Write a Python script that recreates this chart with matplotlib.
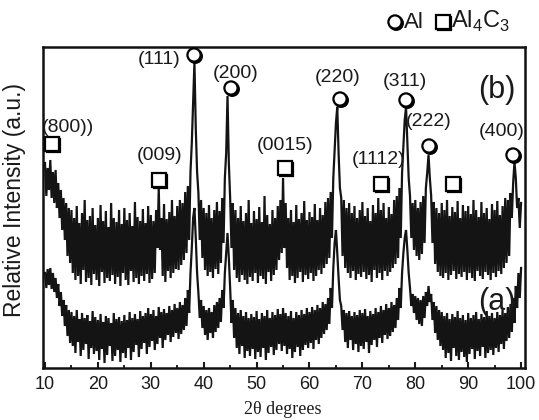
import numpy as np
import matplotlib
matplotlib.use("Agg")
import matplotlib.pyplot as plt
import matplotlib.patheffects as pe

# ---------------- data ----------------
two_theta_start, two_theta_step = 10.0, 0.25

# pattern (b): relative intensity (arbitrary units, stacked offset included)
pattern_b = [
    205, 172, 200, 178, 208, 170, 196, 165, 198, 160, 185, 150, 178, 138, 170, 128, 165, 112, 160, 105,
    158, 95, 150, 88, 162, 92, 145, 84, 155, 98, 168, 86, 148, 90, 152, 83, 160, 94, 143, 88,
    150, 82, 163, 96, 147, 85, 157, 90, 141, 87, 165, 93, 150, 84, 146, 91, 158, 82, 144, 95,
    160, 88, 148, 83, 155, 97, 142, 86, 166, 90, 151, 84, 147, 92, 159, 87, 145, 94, 162, 85,
    153, 89, 147, 95, 158, 120, 180, 118, 150, 92, 164, 86, 149, 97, 156, 90, 168, 95, 152, 99,
    162, 98, 168, 103, 165, 108, 176, 115, 182, 128, 196, 225, 265, 306, 240, 196, 175, 128, 168, 110,
    160, 98, 155, 92, 163, 96, 150, 90, 158, 99, 166, 94, 157, 105, 170, 125, 190, 215, 272, 205,
    170, 120, 165, 98, 158, 90, 150, 86, 162, 93, 147, 88, 155, 84, 168, 91, 145, 87, 157, 95,
    149, 85, 161, 92, 146, 89, 172, 84, 153, 96, 144, 87, 158, 93, 150, 98, 162, 108, 168, 115,
    190, 120, 165, 100, 150, 88, 158, 92, 146, 85, 163, 90, 149, 96, 155, 86, 167, 93, 148, 89,
    156, 95, 151, 87, 164, 92, 148, 98, 160, 94, 153, 100, 166, 104, 170, 110, 176, 130, 190, 218,
    245, 261, 215, 180, 170, 112, 168, 100, 160, 95, 165, 90, 155, 97, 162, 88, 150, 94, 158, 91,
    166, 96, 152, 89, 160, 93, 147, 86, 163, 98, 155, 90, 170, 95, 158, 88, 165, 97, 150, 92,
    161, 96, 154, 100, 168, 104, 172, 110, 180, 130, 195, 222, 248, 261, 225, 190, 172, 130, 165, 118,
    168, 112, 160, 108, 166, 114, 172, 125, 180, 195, 213, 190, 172, 125, 166, 104, 160, 96, 155, 92,
    165, 90, 158, 95, 168, 88, 152, 93, 161, 97, 156, 89, 167, 94, 150, 91, 163, 96, 157, 88,
    162, 95, 154, 90, 168, 87, 158, 97, 151, 92, 166, 89, 155, 96, 160, 93, 149, 88, 164, 95,
    158, 91, 167, 97, 153, 94, 162, 100, 170, 105, 168, 112, 175, 150, 185, 206, 190, 160, 170, 140,
    165,
]

# pattern (a)
pattern_a = [
    95, 80, 99, 83, 100, 79, 95, 76, 90, 70, 84, 62, 76, 52, 68, 42, 63, 32, 58, 25,
    56, 22, 52, 15, 58, 26, 49, 12, 55, 18, 50, 24, 53, 9, 47, 20, 57, 14, 51, 17,
    48, 8, 54, 19, 46, 5, 52, 13, 50, 22, 45, 7, 55, 12, 49, 18, 51, 6, 47, 15,
    53, 10, 48, 20, 56, 8, 50, 16, 54, 23, 49, 11, 57, 19, 52, 25, 55, 14, 60, 21,
    54, 27, 58, 18, 52, 24, 61, 30, 56, 20, 59, 28, 55, 33, 62, 26, 58, 31, 64, 35,
    60, 29, 66, 34, 63, 38, 70, 42, 78, 55, 95, 120, 150, 160, 130, 95, 75, 50, 68, 40,
    62, 33, 58, 28, 60, 35, 56, 30, 63, 36, 66, 40, 70, 46, 78, 60, 95, 115, 135, 110,
    80, 45, 68, 30, 60, 20, 55, 14, 58, 22, 52, 10, 56, 17, 50, 12, 54, 19, 51, 9,
    57, 16, 49, 11, 55, 20, 52, 8, 58, 15, 50, 21, 56, 13, 53, 18, 59, 24, 54, 17,
    60, 22, 55, 14, 52, 19, 57, 10, 50, 16, 56, 21, 53, 12, 58, 18, 54, 23, 60, 20,
    56, 25, 61, 19, 58, 28, 63, 24, 60, 30, 66, 34, 64, 38, 70, 44, 80, 60, 100, 125,
    138, 115, 90, 68, 62, 38, 58, 26, 55, 20, 57, 28, 52, 18, 56, 24, 53, 16, 58, 22,
    55, 19, 59, 26, 52, 15, 57, 23, 54, 28, 60, 21, 56, 30, 62, 25, 58, 33, 64, 29,
    60, 32, 66, 36, 63, 40, 70, 48, 80, 60, 95, 115, 130, 138, 118, 95, 80, 62, 74, 55,
    72, 48, 70, 44, 68, 42, 72, 50, 76, 62, 82, 66, 74, 48, 66, 35, 62, 28, 58, 22,
    56, 18, 52, 10, 55, 15, 49, 7, 54, 20, 51, 12, 57, 8, 50, 16, 53, 11, 48, 6,
    55, 14, 50, 19, 53, 9, 56, 17, 49, 12, 54, 21, 51, 10, 57, 15, 52, 18, 55, 13,
    50, 20, 56, 16, 53, 24, 58, 19, 55, 27, 61, 30, 64, 36, 70, 45, 82, 60, 95, 70,
    100,
]

# Al peak markers (circles) and labels
al_marker_x = [38.17, 45.16, 65.77, 78.24, 82.59, 98.47]
al_marker_y = [313, 280, 269, 268, 222, 213]
al_labels = ["(111)", "(200)", "(220)", "(311)", "(222)", "(400)"]
al_label_x = [31.6, 46.1, 65.4, 78.05, 82.5, 96.4]
al_label_y = [308, 295, 290, 287, 247, 237]

# Al4C3 peak markers (squares) and labels
alc_marker_x = [11.32, 31.55, 55.37, 73.52, 87.13]
alc_marker_y = [224, 188, 200, 184, 184]
alc_labels = ["(800))", "(009)", "(0015)", "(1112)", ""]
alc_label_x = [14.4, 31.74, 55.37, 73.14, 87.13]
alc_label_y = [241, 213, 223, 208, 208]

x_ticks = [10, 20, 30, 40, 50, 60, 70, 80, 90, 100]

# ---------------- plotting ----------------
plt.rcParams['font.family'] = ['Liberation Sans', 'DejaVu Sans']
plt.rcParams['mathtext.fontset'] = 'custom'
plt.rcParams['mathtext.rm'] = 'Liberation Sans'
TXT = '#1a1a1a'

W, H = 539, 420
fig = plt.figure(figsize=(W / 100, H / 100), dpi=100)
ax = fig.add_axes([43 / W, 1 - 368 / H, (525 - 43) / W, (368 - 47) / H])

n = len(pattern_b)
two_theta = two_theta_start + two_theta_step * np.arange(n)

ax.plot(two_theta, pattern_b, color='#141414', lw=1.6, solid_joinstyle='miter')
ax.plot(two_theta[:len(pattern_a)], pattern_a, color='#141414', lw=1.6, solid_joinstyle='miter')

shadow = [pe.SimpleLineShadow(offset=(0.9, -0.9), shadow_color='k', alpha=1.0), pe.Normal()]
ax.plot(al_marker_x, al_marker_y, ls='none', marker='o', ms=9.5, mfc='white', mec='k',
        mew=1.6, path_effects=shadow, clip_on=False, zorder=5)
ax.plot(alc_marker_x, alc_marker_y, ls='none', marker='s', ms=9.5, mfc='white', mec='k',
        mew=1.6, path_effects=shadow, clip_on=False, zorder=5)

for t, xx, yy in zip(al_labels, al_label_x, al_label_y):
    ax.text(xx, yy, t, ha='center', va='center', fontsize=14, color=TXT, clip_on=False)
for t, xx, yy in zip(alc_labels, alc_label_x, alc_label_y):
    if t:
        ax.text(xx, yy, t, ha='center', va='center', fontsize=14, color=TXT, clip_on=False)

ax.text(0.98, 0.867, "(b)", transform=ax.transAxes, ha='right', va='center', fontsize=22, color=TXT)
ax.text(0.98, 0.205, "(a)", transform=ax.transAxes, ha='right', va='center', fontsize=22, color=TXT)

ax.set_xlim(9.62, 100.74)
ax.set_ylim(0, 321)
ax.set_xticks(x_ticks)
ax.set_xticks(np.array(x_ticks[:-1]) + 5, minor=True)
ax.set_yticks([])
ax.tick_params(axis='x', which='major', direction='in', length=4, width=1.5, labelsize=13,
               pad=6, colors=TXT)
ax.tick_params(axis='x', which='minor', direction='in', length=2.5, width=1.2)
for s in ax.spines.values():
    s.set_linewidth(1.8)
    s.set_color('#111')

fig.text(15 / W, 1 - 200 / H, "Relative Intensity (a.u.)", rotation=90, ha='center', va='center',
         fontsize=16.5, color=TXT)
fig.text(283 / W, 1 - 409 / H, "2\u03b8 degrees", ha='center', va='center', fontsize=13,
         family=['Liberation Serif', 'DejaVu Serif'], color=TXT)

# legend drawn as marker + text above the frame
ly = 1 - 22 / H
base = 1 - 28 / H
fig.lines.append(plt.Line2D([395 / W], [ly], transform=fig.transFigure, ls='none', marker='o',
                            ms=9.5, mfc='white', mec='k', mew=1.6, path_effects=shadow))
fig.text(404 / W, base, "Al", ha='left', va='baseline', fontsize=16, color=TXT)
fig.lines.append(plt.Line2D([443 / W], [ly], transform=fig.transFigure, ls='none', marker='s',
                            ms=9.5, mfc='white', mec='k', mew=1.6, path_effects=shadow))
fig.text(451 / W, base, r"Al$_\mathrm{4}$C$_\mathrm{3}$", ha='left', va='baseline',
         fontsize=17, color=TXT)

fig.savefig("out.png", dpi=100)
